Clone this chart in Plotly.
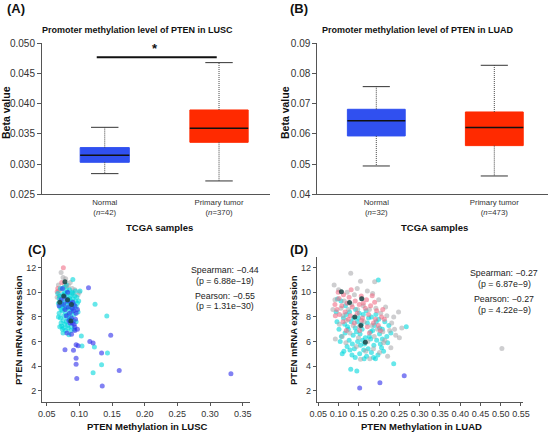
import plotly.graph_objects as go

# ---- box panels (A: LUSC, B: LUAD) ----
groups = ["Normal", "Primary tumor"]
lusc_n = [42, 370]
luad_n = [32, 473]

lusc_lower = [0.02842, 0.02721]
lusc_q1 = [0.03030, 0.03361]
lusc_median = [0.03146, 0.03593]
lusc_q3 = [0.03273, 0.03896]
lusc_upper = [0.03609, 0.04680]

luad_lower = [0.04938, 0.04607]
luad_q1 = [0.05932, 0.05612]
luad_median = [0.06439, 0.06208]
luad_q3 = [0.06815, 0.06726]
luad_upper = [0.07565, 0.08272]

# ---- scatter panels (C: LUSC, D: LUAD) ----
c_gray_x = [0.072, 0.075, 0.079, 0.068, 0.083, 0.070, 0.093, 0.100, 0.098, 0.089, 0.066, 0.086, 0.077, 0.091, 0.068]
c_gray_y = [11.6, 11.2, 11.1, 10.6, 10.55, 10.15, 10.2, 10.0, 9.8, 10.3, 9.6, 10.8, 10.7, 9.9, 10.1]
c_pink_x = [0.0755, 0.066, 0.080, 0.069, 0.073, 0.067]
c_pink_y = [12.0, 10.05, 10.5, 9.7, 10.8, 10.3]
c_cyan_x = [0.090, 0.085, 0.094, 0.124, 0.142, 0.073, 0.070, 0.076, 0.084, 0.103, 0.104, 0.123, 0.143, 0.134, 0.121,
            0.067, 0.069, 0.068, 0.070, 0.069, 0.071, 0.072, 0.074, 0.073, 0.075, 0.074, 0.076, 0.075, 0.078,
            0.077, 0.079, 0.078, 0.080, 0.079, 0.081, 0.080, 0.082, 0.083, 0.082, 0.084, 0.083, 0.085, 0.086,
            0.087, 0.086, 0.088, 0.087, 0.089, 0.090, 0.091, 0.090, 0.092, 0.093, 0.094, 0.095, 0.071, 0.076,
            0.081, 0.072, 0.077, 0.084, 0.088, 0.079, 0.082, 0.073, 0.078, 0.085, 0.070, 0.096, 0.097, 0.091,
            0.075, 0.068, 0.080, 0.099, 0.098, 0.092, 0.101, 0.087, 0.074, 0.095, 0.089, 0.083]
c_cyan_y = [11.05, 10.2, 10.1, 9.02, 8.07, 7.26, 7.2, 7.1, 6.55, 6.44, 5.63, 5.55, 5.06, 4.11, 3.46,
            9.9, 9.5, 9.1, 8.8, 8.3, 7.9, 7.5, 9.8, 9.3, 8.9, 8.5, 8.1, 7.7, 7.4,
            10.0, 9.6, 9.2, 8.7, 8.3, 7.9, 7.6, 9.9, 9.4, 9.0, 8.6, 8.2, 7.8, 9.7,
            9.3, 8.8, 8.4, 8.0, 9.9, 9.5, 9.0, 8.6, 8.2, 9.7, 9.3, 8.8, 10.3, 10.4,
            10.2, 8.6, 8.7, 9.2, 7.2, 6.9, 7.3, 9.0, 9.9, 9.5, 9.7, 9.6, 9.1, 7.7,
            6.7, 8.0, 10.6, 9.3, 8.4, 7.0, 10.1, 6.9, 7.0, 7.6, 10.0, 7.1]
c_blue_x = [0.114, 0.148, 0.116, 0.121, 0.134, 0.161, 0.135, 0.332, 0.078, 0.091, 0.095, 0.095, 0.096, 0.095,
            0.098, 0.081, 0.093, 0.097, 0.093, 0.089, 0.092, 0.088, 0.074, 0.072, 0.076, 0.078, 0.081, 0.083,
            0.085, 0.087, 0.089, 0.091, 0.093, 0.095, 0.097, 0.084, 0.086, 0.080, 0.077, 0.090, 0.088, 0.094,
            0.082, 0.069]
c_blue_y = [10.37, 6.5, 6.0, 5.88, 5.06, 3.65, 2.38, 3.38, 5.33, 5.28, 4.63, 4.14, 3.0, 5.74,
            5.66, 6.7, 7.18, 7.0, 6.9, 7.5, 7.4, 6.58, 10.3, 9.4, 9.0, 8.6, 9.3, 8.8,
            8.3, 9.1, 8.7, 8.5, 8.9, 8.3, 8.6, 7.7, 7.5, 8.1, 9.6, 9.2, 7.9, 7.8,
            10.0, 8.9]
c_dark_x = [0.078, 0.076, 0.070, 0.088, 0.087, 0.082]
c_dark_y = [10.85, 9.7, 9.2, 9.0, 7.66, 9.4]

d_gray_x = [0.089, 0.130, 0.154, 0.189, 0.216, 0.248, 0.250, 0.503, 0.154, 0.100, 0.121, 0.146, 0.171, 0.184,
            0.091, 0.106, 0.114, 0.132, 0.147, 0.161, 0.176, 0.192, 0.204, 0.219, 0.231, 0.238, 0.086, 0.102,
            0.119, 0.136, 0.151, 0.163, 0.182, 0.196, 0.209, 0.226, 0.092, 0.109, 0.128, 0.149, 0.172, 0.188,
            0.211, 0.229, 0.241, 0.118, 0.144, 0.167, 0.186, 0.201, 0.221, 0.177, 0.214, 0.236, 0.256, 0.111,
            0.124, 0.139, 0.158, 0.199]
d_gray_y = [10.6, 11.54, 10.9, 10.86, 8.8, 8.4, 6.3, 5.42, 4.55, 10.2, 10.0, 10.3, 10.1, 9.9,
            9.4, 8.7, 9.3, 9.0, 8.6, 8.9, 8.6, 8.7, 8.3, 8.1, 7.5, 7.0, 8.6, 7.4,
            7.7, 7.3, 7.2, 7.6, 7.3, 7.0, 6.8, 6.9, 6.2, 6.4, 6.7, 6.3, 6.0, 6.4,
            5.9, 5.5, 6.5, 5.9, 5.6, 5.2, 5.4, 5.1, 4.8, 4.6, 6.1, 8.0, 7.1, 8.1,
            8.6, 9.8, 9.5, 9.4]
d_pink_x = [0.091, 0.101, 0.112, 0.126, 0.141, 0.156, 0.169, 0.183, 0.096, 0.108, 0.121, 0.134, 0.151, 0.166,
            0.179, 0.194, 0.102, 0.116, 0.129, 0.146, 0.159, 0.174, 0.191, 0.206, 0.111, 0.124, 0.139, 0.157,
            0.171, 0.186, 0.198, 0.213, 0.119, 0.152, 0.176, 0.099, 0.131, 0.161, 0.189, 0.209, 0.092, 0.203]
d_pink_y = [9.0, 9.5, 9.8, 9.6, 9.3, 9.7, 9.4, 9.72, 8.6, 8.9, 9.1, 8.8, 9.0, 8.7,
            8.9, 8.5, 8.2, 8.4, 8.1, 8.3, 7.9, 8.2, 7.8, 8.0, 7.6, 7.8, 7.5, 7.7,
            7.2, 7.5, 7.3, 7.8, 6.9, 6.9, 6.7, 10.0, 10.2, 9.1, 9.2, 8.6, 8.1, 6.9]
d_cyan_x = [0.198, 0.097, 0.267, 0.236, 0.130, 0.145, 0.113, 0.106, 0.117, 0.127, 0.142, 0.161, 0.181, 0.199,
            0.112, 0.131, 0.149, 0.171, 0.188, 0.208, 0.122, 0.141, 0.158, 0.179, 0.201, 0.219, 0.101, 0.116,
            0.136, 0.153, 0.176, 0.194, 0.126, 0.147, 0.164, 0.187, 0.206, 0.104, 0.121, 0.139, 0.162, 0.181,
            0.197, 0.109, 0.133, 0.152, 0.169, 0.191, 0.211, 0.221, 0.229, 0.096, 0.137, 0.156, 0.174, 0.193,
            0.214, 0.144, 0.166, 0.184, 0.124, 0.107, 0.173, 0.154, 0.134, 0.203, 0.208, 0.141, 0.163, 0.186,
            0.128, 0.115, 0.151, 0.168, 0.192, 0.146, 0.159, 0.179, 0.201, 0.224, 0.119, 0.094]
d_cyan_y = [10.99, 9.45, 7.19, 4.2, 3.74, 3.6, 5.2, 9.3, 8.9, 8.4, 8.6, 8.2, 8.0, 7.8,
            7.9, 7.6, 7.9, 7.5, 7.3, 7.0, 7.2, 7.1, 7.0, 6.8, 6.6, 6.4, 7.0, 6.7,
            6.5, 6.6, 6.4, 6.1, 6.1, 6.0, 5.8, 5.7, 5.5, 6.0, 5.6, 5.4, 5.3, 5.1,
            4.9, 5.0, 4.9, 5.0, 4.8, 4.6, 5.2, 5.9, 6.7, 7.6, 7.9, 7.4, 7.9, 7.6,
            7.6, 6.8, 6.3, 6.9, 7.0, 6.4, 5.4, 5.7, 5.8, 5.8, 6.2, 4.7, 4.6, 4.7,
            5.3, 7.4, 8.3, 8.5, 8.2, 7.6, 6.1, 6.2, 7.1, 7.3, 8.2, 8.4]
d_dark_x = [0.107, 0.127, 0.157, 0.166, 0.155, 0.140]
d_dark_y = [10.04, 9.17, 9.47, 5.94, 7.3, 8.0]
d_blue_x = [0.152, 0.202, 0.262]
d_blue_y = [2.22, 2.65, 3.22]

c_stats = ["Spearman: −0.44", "(p = 6.88e−19)", "Pearson: −0.55", "(p = 1.31e−30)"]
d_stats = ["Spearman: −0.27", "(p = 6.87e−9)", "Pearson: −0.27", "(p = 4.22e−9)"]

BLUE = "#3050f0"
RED = "#ff2a00"
AXC = "#555555"
W, H = 550, 434
ARIAL = "Liberation Sans"
NARROW = "Liberation Sans Narrow, Liberation Sans"


def px(x):
    return x / W


def py(y):
    return 1 - y / H


fig = go.Figure()


def add_boxes(xa, ya, lower, q1, med, q3, upper, widths, capw):
    colors = [BLUE, RED]
    for i in range(2):
        fig.add_trace(go.Box(x=[i], q1=[q1[i]], median=[med[i]], q3=[q3[i]],
                             lowerfence=[q1[i]], upperfence=[q3[i]], width=widths[i],
                             fillcolor=colors[i], line=dict(color=colors[i], width=1),
                             whiskerwidth=0, xaxis=xa, yaxis=ya, hoverinfo="skip"))
        # median
        fig.add_trace(go.Scatter(x=[i - widths[i] / 2, i + widths[i] / 2], y=[med[i], med[i]],
                                 mode="lines", line=dict(color="#111", width=1.5),
                                 xaxis=xa, yaxis=ya, hoverinfo="skip"))
        # whiskers
        fig.add_trace(go.Scatter(x=[i, i, None, i, i], y=[q3[i], upper[i], None, q1[i], lower[i]],
                                 mode="lines", line=dict(color="#444", width=1, dash="1px,1px"),
                                 xaxis=xa, yaxis=ya, hoverinfo="skip"))
        # caps
        fig.add_trace(go.Scatter(x=[i - capw / 2, i + capw / 2, None, i - capw / 2, i + capw / 2],
                                 y=[upper[i], upper[i], None, lower[i], lower[i]],
                                 mode="lines", line=dict(color="#333", width=1),
                                 xaxis=xa, yaxis=ya, hoverinfo="skip"))


add_boxes("x", "y", lusc_lower, lusc_q1, lusc_median, lusc_q3, lusc_upper, [0.43, 0.51], 0.24)
add_boxes("x2", "y2", luad_lower, luad_q1, luad_median, luad_q3, luad_upper, [0.49, 0.49], 0.23)

# significance bar in A
sig_x = [-0.07, 0.98]
sig_y = 0.04768
fig.add_trace(go.Scatter(x=sig_x, y=[sig_y, sig_y], mode="lines", line=dict(color="#111", width=2),
                         xaxis="x", yaxis="y", hoverinfo="skip"))


def add_points(xa, ya, xs, ys, color):
    fig.add_trace(go.Scatter(x=xs, y=ys, mode="markers", xaxis=xa, yaxis=ya, hoverinfo="skip",
                             marker=dict(size=5, color=color, line=dict(width=0))))


GRAY = "rgba(165,165,170,0.55)"
PINK = "rgba(240,110,135,0.6)"
CYAN = "rgba(0,215,220,0.6)"
BLUEPT = "rgba(45,45,235,0.6)"
DARK = "rgba(25,70,70,0.85)"

add_points("x3", "y3", c_gray_x, c_gray_y, GRAY)
add_points("x3", "y3", c_pink_x, c_pink_y, PINK)
add_points("x3", "y3", c_cyan_x, c_cyan_y, CYAN)
add_points("x3", "y3", c_blue_x, c_blue_y, BLUEPT)
add_points("x3", "y3", c_dark_x, c_dark_y, DARK)

add_points("x4", "y4", d_cyan_x, d_cyan_y, CYAN)
add_points("x4", "y4", d_gray_x, d_gray_y, GRAY)
add_points("x4", "y4", d_pink_x, d_pink_y, PINK)
add_points("x4", "y4", d_dark_x, d_dark_y, DARK)
add_points("x4", "y4", d_blue_x, d_blue_y, BLUEPT)

axis_common = dict(showline=True, linecolor=AXC, linewidth=1, ticks="outside", ticklen=4,
                   tickcolor=AXC, showgrid=False, zeroline=False, fixedrange=True, automargin=False)
box_ticks_a = [f"{g}<br>(<i>n</i>={n})" for g, n in zip(groups, lusc_n)]
box_ticks_b = [f"{g}<br>(<i>n</i>={n})" for g, n in zip(groups, luad_n)]

top_y = [py(194.3), py(43.3)]
bot_y = [py(402), py(257)]

fig.update_layout(
    template="none",
    width=W, height=H, margin=dict(l=0, r=0, t=0, b=0, autoexpand=False),
    paper_bgcolor="white", plot_bgcolor="white", showlegend=False,
    font=dict(family=ARIAL, color="#222"),
    xaxis=dict(axis_common, domain=[px(42), px(270)], range=[-0.549, 1.446], tickvals=[0, 1],
               ticktext=box_ticks_a, ticks="", tickfont=dict(size=7.8, color="#333"), anchor="y"),
    yaxis=dict(axis_common, domain=top_y, range=[0.025, 0.050], dtick=0.005, tickformat=".3f",
               tickfont=dict(size=10, color="#333"), anchor="x"),
    xaxis2=dict(axis_common, domain=[px(317.3), px(548)], range=[-0.5, 1.455], tickvals=[0, 1],
                ticktext=box_ticks_b, ticks="", tickfont=dict(size=7.8, color="#333"), anchor="y2"),
    yaxis2=dict(axis_common, domain=top_y, range=[0.04, 0.09], dtick=0.01, tickformat=".2f",
                tickfont=dict(size=10, color="#333"), anchor="x2"),
    xaxis3=dict(axis_common, domain=[px(42), px(250)], range=[0.0428, 0.3612], dtick=0.05,
                tick0=0.05, tickformat=".2f", ticklen=3, tickfont=dict(size=9, family=NARROW, color="#333"),
                anchor="y3"),
    yaxis3=dict(axis_common, domain=bot_y, range=[1.08, 12.87], dtick=2, ticklen=3,
                tickfont=dict(size=9, family=NARROW, color="#333"), anchor="x3"),
    xaxis4=dict(axis_common, domain=[px(316.7), px(523.3)], range=[0.046, 0.5558], dtick=0.05,
                tick0=0.05, tickformat=".2f", ticklen=3, tickfont=dict(size=9, family=NARROW, color="#333"),
                anchor="y4"),
    yaxis4=dict(axis_common, domain=bot_y, range=[1.08, 12.87], dtick=2, ticklen=3,
                tickfont=dict(size=9, family=NARROW, color="#333"), anchor="x4"),
)


def note(x, y, text, size, bold=False, angle=0, family=ARIAL, color="#111"):
    fig.add_annotation(x=px(x), y=py(y), xref="paper", yref="paper", text=f"<b>{text}</b>" if bold else text,
                       showarrow=False, textangle=angle, xanchor="center", yanchor="middle",
                       font=dict(size=size, family=family, color=color))


note(16, 9, "(A)", 13, bold=True)
note(299, 9, "(B)", 13, bold=True)
note(37, 249, "(C)", 13, bold=True)
note(299, 249, "(D)", 13, bold=True)

note(137, 30, "Promoter methylation level of PTEN in LUSC", 9, bold=True)
note(418, 30, "Promoter methylation level of PTEN in LUAD", 9, bold=True)
note(6, 113, "Beta value", 10.5, bold=True, angle=-90)
note(285, 113, "Beta value", 10.5, bold=True, angle=-90)
note(159, 228, "TCGA samples", 9.5, bold=True)
note(434, 228, "TCGA samples", 9.5, bold=True)

fig.add_annotation(x=0.44, y=0.0491, xref="x", yref="y", text="<b>*</b>", showarrow=False,
                   font=dict(size=13, family=ARIAL, color="#111"))

note(147, 426, "PTEN Methylation in LUSC", 9.5, bold=True)
note(422, 426, "PTEN Methylation in LUAD", 9.5, bold=True)
note(18, 330, "PTEN mRNA expression", 9.5, bold=True, angle=-90)
note(293, 330, "PTEN mRNA expression", 9.5, bold=True, angle=-90)

for t, yy in zip(c_stats, [270.3, 281.3, 296.3, 306.3]):
    note(225, yy, t, 8.8, family=NARROW, color="#222")
for t, yy in zip(d_stats, [273, 283.7, 298.7, 309.7]):
    note(504, yy, t, 8.8, family=NARROW, color="#222")

fig.write_html("out.html", config={"displayModeBar": False},
               post_script="document.body.style.margin='0px';")
